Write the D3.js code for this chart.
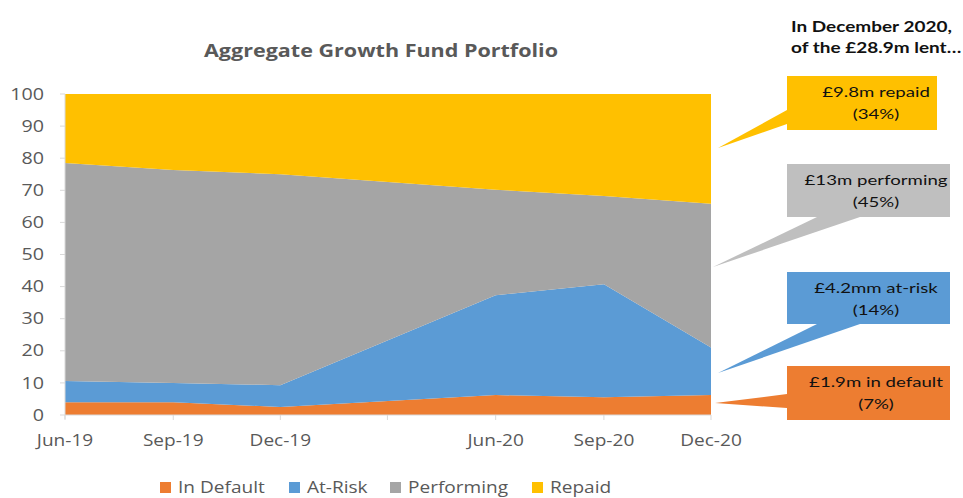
<!DOCTYPE html>
<html><head><meta charset="utf-8">
<script src="https://cdn.jsdelivr.net/npm/d3@7"></script>
<style>body{margin:0;background:#fff}svg{display:block}</style>
</head><body>
<svg id="c" width="963" height="498"></svg>
<script>
const dates = ["2019-06-01","2019-09-01","2019-12-01","2020-06-01","2020-09-01","2020-12-01"];
const seriesNames = ["In Default","At-Risk","Performing","Repaid"];
const inDefault = [4.0, 4.0, 2.5, 6.2, 5.5, 6.2];
const atRisk = [6.6, 6.0, 6.8, 31.1, 35.2, 14.8];
const performing = [67.9, 66.3, 65.7, 32.9, 27.5, 44.8];
const repaid = [21.5, 23.7, 25.0, 29.8, 31.8, 34.2];
const colors = ["#ED7D31","#5B9BD5","#A5A5A5","#FFC000"];
const tickDates = ["2019-06-01","2019-09-01","2019-12-01","2020-03-01","2020-06-01","2020-09-01","2020-12-01"];
const tickLabels = ["Jun-19","Sep-19","Dec-19","","Jun-20","Sep-20","Dec-20"];
const yTicks = [0,10,20,30,40,50,60,70,80,90,100];
const title = "Aggregate Growth Fund Portfolio";
const headline = ["In December 2020,","of the £28.9m lent…"];
const callouts = [
  {lines:["£9.8m repaid","(34%)"], color:"#FFC000"},
  {lines:["£13m performing","(45%)"], color:"#BFBFBF"},
  {lines:["£4.2mm at-risk","(14%)"], color:"#5B9BD5"},
  {lines:["£1.9m in default","(7%)"], color:"#ED7D31"}
];

const parse = d3.timeParse("%Y-%m-%d");
const svg = d3.select("#c");
const x = d3.scaleTime().domain([parse("2019-06-01"), parse("2020-12-01")]).range([65, 711]);
const y = d3.scaleLinear().domain([0,100]).range([415, 94]);
const SX = 1.23;   // horizontal stretch of chart text
const SA = 1.33;   // horizontal stretch of annotation text
const tr = (px,py,s)=>`translate(${px},${py}) scale(${s},1)`;

const rows = dates.map((d,i)=>({date:parse(d),"In Default":inDefault[i],"At-Risk":atRisk[i],"Performing":performing[i],"Repaid":repaid[i]}));
const stack = d3.stack().keys(seriesNames)(rows);
const area = d3.area().x(d=>x(d.data.date)).y0(d=>y(d[0])).y1(d=>y(d[1]));

svg.append("g").selectAll("path").data(stack).join("path")
  .attr("d", area).attr("fill",(d,i)=>colors[i]);

// title
svg.append("text").attr("transform",tr(381,57,SX)).attr("text-anchor","middle")
  .attr("font-family","Open Sans").attr("font-weight","bold").attr("font-size",17.5)
  .attr("fill","#595959").text(title);

// y axis
const gy = svg.append("g");
gy.append("line").attr("x1",65).attr("x2",65).attr("y1",y(100)).attr("y2",y(0)+4).attr("stroke","#D9D9D9");
gy.selectAll("line.t").data(yTicks).join("line").attr("class","t")
  .attr("x1",60).attr("x2",65).attr("y1",d=>y(d)).attr("y2",d=>y(d)).attr("stroke","#D9D9D9");
gy.selectAll("text").data(yTicks).join("text")
  .attr("transform",d=>tr(44,y(d),SX)).attr("dy","0.35em").attr("text-anchor","end")
  .attr("font-family","Open Sans").attr("font-size",16).attr("fill","#595959").text(d=>d);

// x axis
const gx = svg.append("g");
gx.append("line").attr("x1",65).attr("x2",711).attr("y1",415).attr("y2",415).attr("stroke","#D9D9D9");
gx.selectAll("line.t").data(tickDates).join("line").attr("class","t")
  .attr("x1",d=>x(parse(d))).attr("x2",d=>x(parse(d))).attr("y1",415).attr("y2",420).attr("stroke","#D9D9D9");
gx.selectAll("text").data(tickDates).join("text")
  .attr("transform",d=>tr(x(parse(d)),446,SX)).attr("text-anchor","middle")
  .attr("font-family","Open Sans").attr("font-size",15.5).attr("fill","#595959")
  .text((d,i)=>tickLabels[i]);

// legend
const legX = [160, 289, 390, 532];
const lg = svg.append("g");
seriesNames.forEach((n,i)=>{
  lg.append("rect").attr("x",legX[i]).attr("y",482).attr("width",11).attr("height",11).attr("fill",colors[i]);
  lg.append("text").attr("transform",tr(legX[i]+18,493,SX)).attr("font-family","Open Sans")
    .attr("font-size",15.5).attr("fill","#595959").text(n);
});

// headline
headline.forEach((t,i)=>{
  svg.append("text").attr("transform",tr(791,32+i*21,1.31)).attr("font-family","Lato").attr("font-weight","bold")
    .attr("font-size",14.5).attr("fill","#111").text(t);
});

// callouts (boxes + pointers)
const boxes = [
  {x:787,y:76,w:150,h:54, ptr:[[787,110],[718,148],[787,124]]},
  {x:787,y:164,w:163,h:53, ptr:[[817,217],[713,267],[860,217]]},
  {x:787,y:272,w:163,h:52, ptr:[[817,324],[718,373],[860,324]]},
  {x:787,y:366,w:163,h:54, ptr:[[787,394],[715,403],[787,408]]}
];
callouts.forEach((c,i)=>{
  const b = boxes[i];
  const g = svg.append("g");
  g.append("path").attr("d", d3.line()(b.ptr)+"Z").attr("fill",c.color);
  g.append("rect").attr("x",b.x).attr("y",b.y).attr("width",b.w).attr("height",b.h).attr("fill",c.color);
  c.lines.forEach((t,j)=>{
    g.append("text").attr("transform",tr(876,b.y+21+j*22,SA)).attr("text-anchor","middle")
      .attr("font-family","Lato").attr("font-size",14).attr("fill","#111").text(t);
  });
});
</script>
</body></html>
